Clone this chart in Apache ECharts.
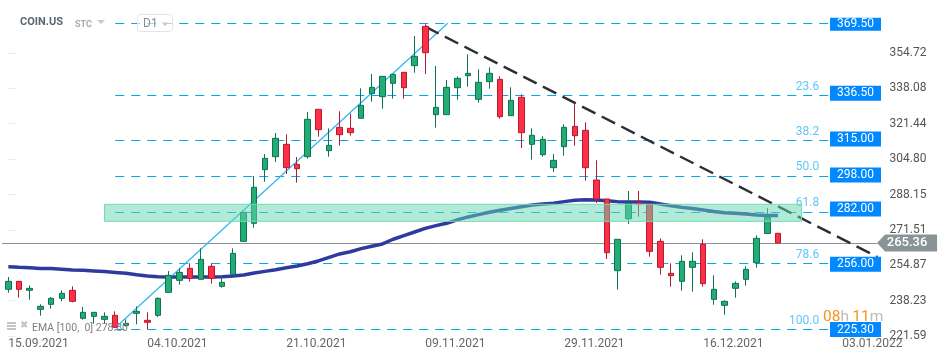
<!DOCTYPE html>
<html>
<head>
<meta charset="utf-8">
<title>COIN.US D1</title>
<script src="https://cdn.jsdelivr.net/npm/echarts@6/dist/echarts.min.js"></script>
<style>
  html, body { margin: 0; padding: 0; background: #fff; }
  #chart { width: 950px; height: 361px; }
</style>
</head>
<body>
<div id="chart"></div>
<script>
// daily candles, values
const categories = [
  '15.09.2021', '16.09.2021', '17.09.2021', '20.09.2021', '21.09.2021', '22.09.2021', '23.09.2021', '24.09.2021',
  '27.09.2021', '28.09.2021', '29.09.2021', '30.09.2021', '01.10.2021', '04.10.2021', '05.10.2021', '06.10.2021',
  '07.10.2021', '08.10.2021', '11.10.2021', '12.10.2021', '13.10.2021', '14.10.2021', '15.10.2021', '18.10.2021',
  '19.10.2021', '20.10.2021', '21.10.2021', '22.10.2021', '25.10.2021', '26.10.2021', '27.10.2021', '28.10.2021',
  '29.10.2021', '01.11.2021', '02.11.2021', '03.11.2021', '04.11.2021', '05.11.2021', '08.11.2021', '09.11.2021',
  '10.11.2021', '11.11.2021', '12.11.2021', '15.11.2021', '16.11.2021', '17.11.2021', '18.11.2021', '19.11.2021',
  '22.11.2021', '23.11.2021', '24.11.2021', '26.11.2021', '29.11.2021', '30.11.2021', '01.12.2021', '02.12.2021',
  '03.12.2021', '06.12.2021', '07.12.2021', '08.12.2021', '09.12.2021', '10.12.2021', '13.12.2021', '14.12.2021',
  '15.12.2021', '16.12.2021', '17.12.2021', '20.12.2021', '21.12.2021', '22.12.2021', '23.12.2021', '24.12.2021',
  '27.12.2021', '28.12.2021', '29.12.2021', '30.12.2021', '31.12.2021', '01.01.2022', '03.01.2022', '04.01.2022',
  '05.01.2022', '06.01.2022'
]
const opens = [
  243.54, 247.30, 243.07, 234.13, 236.48, 239.30, 243.07, 229.90, 230.84, 229.42, 231.31, 226.60, 232.24, 228.95,
  231.31, 242.13, 247.77, 253.41, 248.24, 254.36, 244.95, 250.59, 266.12, 274.60, 299.83, 305.95, 311.75, 302.34,
  305.95, 328.22, 308.77, 319.75, 319.28, 323.98, 335.59, 334.17, 340.45, 345.62, 348.76, 367.26, 325.71, 325.71,
  338.41, 344.05, 332.92, 341.23, 342.33, 325.24, 333.86, 311.75, 306.89, 300.77, 310.65, 320.22, 318.34, 294.97,
  286.04, 252.32, 276.77, 284.48, 283.54, 266.12, 251.06, 247.30, 253.89, 264.71, 238.83, 236.01, 244.01, 248.24,
  256.08, 269.80, 269.90
]
const closes = [
  247.30, 243.54, 244.01, 235.54, 239.30, 241.66, 237.89, 232.72, 232.72, 230.84, 225.66, 227.54, 233.19, 228.01,
  239.30, 250.12, 251.53, 248.71, 257.65, 248.71, 246.83, 260.47, 279.76, 291.54, 305.16, 314.58, 300.77, 300.30,
  323.51, 318.65, 311.28, 316.30, 317.24, 330.10, 338.56, 343.74, 344.68, 338.41, 353.15, 354.87, 329.16, 338.56,
  342.80, 345.15, 340.92, 345.15, 324.77, 332.45, 317.24, 315.99, 314.10, 304.22, 319.75, 315.83, 300.77, 286.04,
  260.77, 267.06, 284.01, 283.54, 261.41, 253.89, 249.96, 256.71, 256.71, 246.20, 243.54, 237.89, 246.36, 252.94,
  267.53, 277.33, 265.36
]
const lows = [
  241.97, 239.62, 238.67, 231.15, 234.44, 237.89, 237.42, 229.27, 227.39, 227.39, 225.50, 225.97, 227.07, 224.72,
  230.52, 241.97, 245.73, 247.14, 248.24, 246.20, 244.32, 250.59, 266.12, 272.53, 294.17, 303.44, 297.79, 293.72,
  305.01, 315.36, 305.95, 311.12, 315.83, 323.98, 331.82, 328.53, 333.23, 333.23, 345.47, 344.84, 319.59, 325.71,
  332.76, 338.88, 331.35, 337.94, 323.83, 325.24, 310.03, 304.54, 305.95, 298.74, 306.42, 311.12, 294.66, 284.15,
  257.81, 243.38, 274.27, 277.71, 258.90, 250.44, 244.79, 242.91, 242.44, 244.79, 236.32, 231.62, 239.62, 245.26,
  253.73, 269.80, 265.36
]
const highs = [
  249.34, 247.50, 245.42, 236.48, 239.93, 243.07, 244.95, 235.23, 232.72, 232.72, 233.19, 229.42, 235.54, 232.72,
  239.77, 252.16, 253.41, 255.77, 262.82, 255.77, 248.71, 262.82, 279.76, 296.85, 307.20, 317.08, 316.46, 305.79,
  326.96, 328.22, 319.28, 327.28, 326.18, 338.10, 344.84, 343.74, 344.84, 345.62, 362.71, 368.20, 348.60, 342.02,
  343.74, 354.09, 347.03, 347.97, 343.74, 338.56, 335.27, 319.28, 315.52, 307.20, 321.16, 330.57, 322.10, 304.24,
  286.04, 267.06, 289.80, 289.80, 283.54, 267.53, 255.77, 259.53, 260.94, 267.06, 250.12, 238.36, 247.30, 254.36,
  268.94, 281.66, 269.90
]
const ema = [
  254.2, 253.9, 253.7, 253.4, 253.3, 253.0, 252.6, 252.5, 252.2, 251.9, 251.5, 251.1, 250.4, 249.8, 249.5, 249.3,
  249.3, 249.3, 249.3, 249.3, 249.5, 249.8, 250.3, 251.2, 252.0, 252.8, 253.7, 254.5, 255.6, 256.9, 258.6, 260.2,
  261.2, 262.7, 263.8, 264.9, 267.1, 268.8, 270.5, 272.2, 273.5, 274.6, 276.2, 277.6, 278.7, 279.8, 280.7, 281.6,
  282.4, 283.2, 283.7, 284.0, 284.8, 285.4, 285.7, 285.6, 285.2, 284.8, 284.6, 284.6, 284.5, 283.7, 282.9, 282.1,
  281.6, 280.9, 280.2, 279.6, 279.3, 279.0, 278.5, 278.3, 278.3
]

const yTicks = [354.72, 338.08, 321.44, 304.80, 288.15, 271.51, 254.87, 238.23, 221.59]
const xLabels = ['15.09.2021', '04.10.2021', '21.10.2021', '09.11.2021', '29.11.2021', '16.12.2021', '03.01.2022']

// fibonacci levels: price on the tag, where the line sits, and its percent
const levelTags = [369.50, 336.50, 315.00, 298.00, 282.00, 256.00, 225.30]
const levelLines = [368.595, 334.725, 313.556, 296.622, 279.687, 255.695, 224.647]
const levelNames = ['', '23.6', '38.2', '50.0', '61.8', '78.6', '100.0']

const lastPrice = 265.36
const lastLine = 265.10
const zone = [275.54, 283.54]
const riseLine = [[10, 225.5], [41.1, 368.7]]
const fallLine = [[39, 367.1], [81.3, 258.75]]

const chart = echarts.init(document.getElementById('chart'))

const candles = opens.map((o, i) => [o, closes[i], lows[i], highs[i]])

// thin line on the hidden value axis
function overlay(data, color, width, dash) {
  return {
    type: 'line',
    xAxisIndex: 1,
    data: data,
    symbol: 'none',
    silent: true,
    clip: false,
    z: 2,
    lineStyle: { color: color, width: width, type: dash }
  }
}

const series = [overlay([[-0.6, lastLine], [81.3, lastLine]], '#88929a', 1, 'solid')]

levelLines.forEach(v => {
  series.push(overlay([[10, v], [76.7, v]], '#00a8f0', 1, [9, 7]))
})

series.push({
  type: 'candlestick',
  data: candles,
  barWidth: 6,
  z: 2,
  itemStyle: {
    color: '#22ad74',
    borderColor: '#0e7252',
    color0: '#fd3045',
    borderColor0: '#b51a33',
    borderWidth: 1
  }
})
series.push({
  type: 'line',
  data: ema,
  symbol: 'none',
  z: 2,
  lineStyle: { color: '#2f3a9e', width: 3.5 }
})
series.push(overlay(riseLine, '#2cb5f0', 1.2, 'solid'))
series.push(overlay(fallLine, '#2a2f33', 2.4, [15, 7]))

// translucent zone on its own layer, over the candles and lines
series.push({
  type: 'custom',
  xAxisIndex: 1,
  silent: true,
  clip: false,
  zlevel: 1,
  data: [[9, 74.2, zone[0], zone[1]]],
  encode: { x: [0, 1], y: [2, 3] },
  renderItem: (params, api) => {
    const a = api.coord([api.value(0), api.value(3)])
    const b = api.coord([api.value(1), api.value(2)])
    return {
      type: 'rect',
      shape: { x: a[0], y: a[1], width: b[0] - a[0], height: b[1] - a[1] },
      style: { fill: 'rgba(101,213,177,0.5)', stroke: '#70dcb4', lineWidth: 1 }
    }
  }
})

// blue price tags
series.push({
  type: 'scatter',
  xAxisIndex: 1,
  clip: false,
  silent: true,
  z: 6,
  symbol: 'rect',
  data: levelTags.map((v, i) => ({
    value: [79.25, v],
    symbolSize: i === 0 ? [51, 13] : [51, 15],
    symbolOffset: i === 0 ? [0, 2.7] : [0, 1.5]
  })),
  itemStyle: { color: '#0088ff', opacity: 1 },
  label: {
    show: true,
    position: 'inside',
    color: '#fff',
    fontFamily: 'Roboto',
    fontSize: 12,
    formatter: p => p.value[1].toFixed(2)
  }
})

// percent names above the level lines
series.push({
  type: 'scatter',
  xAxisIndex: 1,
  clip: false,
  silent: true,
  z: 5,
  symbolSize: 0,
  data: levelNames.map((n, i) => ({ value: [75.85, levelLines[i]], name: n })),
  label: {
    show: true,
    position: 'left',
    distance: 0,
    offset: [0, -9],
    color: '#38b6f5',
    fontFamily: 'Roboto',
    fontSize: 12,
    formatter: p => p.name
  }
})

// last price flag
series.push({
  type: 'scatter',
  xAxisIndex: 1,
  clip: false,
  silent: true,
  z: 6,
  symbol: 'path://M0 8.5 L8 0 L60 0 L60 17 L8 17 Z',
  symbolKeepAspect: false,
  symbolSize: [60, 17],
  data: [[84.07, lastPrice]],
  itemStyle: { color: '#8a9496', opacity: 1 },
  label: {
    show: true,
    position: 'inside',
    color: '#fff',
    fontFamily: 'Roboto',
    fontWeight: 500,
    fontSize: 13,
    formatter: p => p.value[1].toFixed(2)
  }
})

const option = {
  animation: false,
  backgroundColor: '#fff',
  textStyle: { fontFamily: 'Roboto' },
  grid: { left: 3, top: 0, width: 876.58, height: 337 },
  xAxis: [
    {
      type: 'category',
      data: categories,
      boundaryGap: true,
      axisLine: { show: false },
      axisTick: {
        alignWithLabel: true,
        length: 4,
        interval: (i, v) => xLabels.indexOf(v) >= 0,
        lineStyle: { color: '#e2e2e2' }
      },
      axisLabel: {
        interval: (i, v) => xLabels.indexOf(v) >= 0,
        align: 'left',
        margin: 1,
        color: '#666',
        fontSize: 12
      },
      splitLine: { show: false }
    },
    { type: 'value', min: -0.5, max: 81.5, show: false, splitLine: { show: false } }
  ],
  yAxis: {
    type: 'value',
    position: 'right',
    min: 221.12,
    max: 379.65,
    axisLine: { show: false },
    axisTick: {
      show: true,
      length: 7,
      customValues: yTicks,
      lineStyle: { color: '#e8e8e8' }
    },
    axisLabel: {
      customValues: yTicks,
      margin: 10,
      color: '#555',
      fontSize: 12,
      formatter: v => v.toFixed(2)
    },
    splitLine: { show: false }
  },
  series: series,
  graphic: [
    { type: 'text', x: 20, y: 17, z: 10, style: { text: 'COIN.US', fill: '#5a6670', font: 'bold 11px Roboto' } },
    { type: 'text', x: 75, y: 20, z: 10, style: { text: 'STC', fill: '#a3adb5', font: 'bold 9px Roboto' } },
    { type: 'polygon', z: 10, shape: { points: [[97, 20], [105, 20], [101, 24]] }, style: { fill: '#c9c9c9' } },
    { type: 'rect', z: 10, shape: { x: 137.5, y: 14.5, width: 35, height: 17, r: 3 }, style: { fill: 'rgba(255,255,255,0.6)', stroke: '#e4e4e4' } },
    { type: 'text', x: 143, y: 18, z: 10, style: { text: 'D1', fill: '#8a8f93', font: '12px Roboto' } },
    { type: 'polygon', z: 10, shape: { points: [[161.5, 22.5], [168.5, 22.5], [165, 26]] }, style: { fill: '#c9c9c9' } },
    { type: 'rect', z: 1, shape: { x: 7, y: 322, width: 9, height: 2 }, style: { fill: '#c4c4c4' } },
    { type: 'rect', z: 1, shape: { x: 7, y: 325, width: 9, height: 2 }, style: { fill: '#c4c4c4' } },
    { type: 'rect', z: 1, shape: { x: 7, y: 328, width: 9, height: 2 }, style: { fill: '#c4c4c4' } },
    { type: 'text', x: 20, y: 320, z: 1, style: { text: '✖', fill: '#c4c4c4', font: '10px "DejaVu Sans"' } },
    { type: 'text', x: 32, y: 323, z: 5, style: { text: 'EMA [100,  0] 278.80', fill: '#808080', font: '10.5px Roboto' } },
    {
      type: 'text',
      x: 823,
      y: 309,
      z: 10,
      style: {
        text: '{a|08}{b|h} {a|11}{b|m}',
        rich: {
          a: { fill: '#f7941d', font: '15.5px Roboto' },
          b: { fill: '#bdbdbd', font: '15.5px Roboto' }
        }
      }
    }
  ]
}

chart.setOption(option)
window.onresize = function () {
  chart.resize()
}
</script>
</body>
</html>
